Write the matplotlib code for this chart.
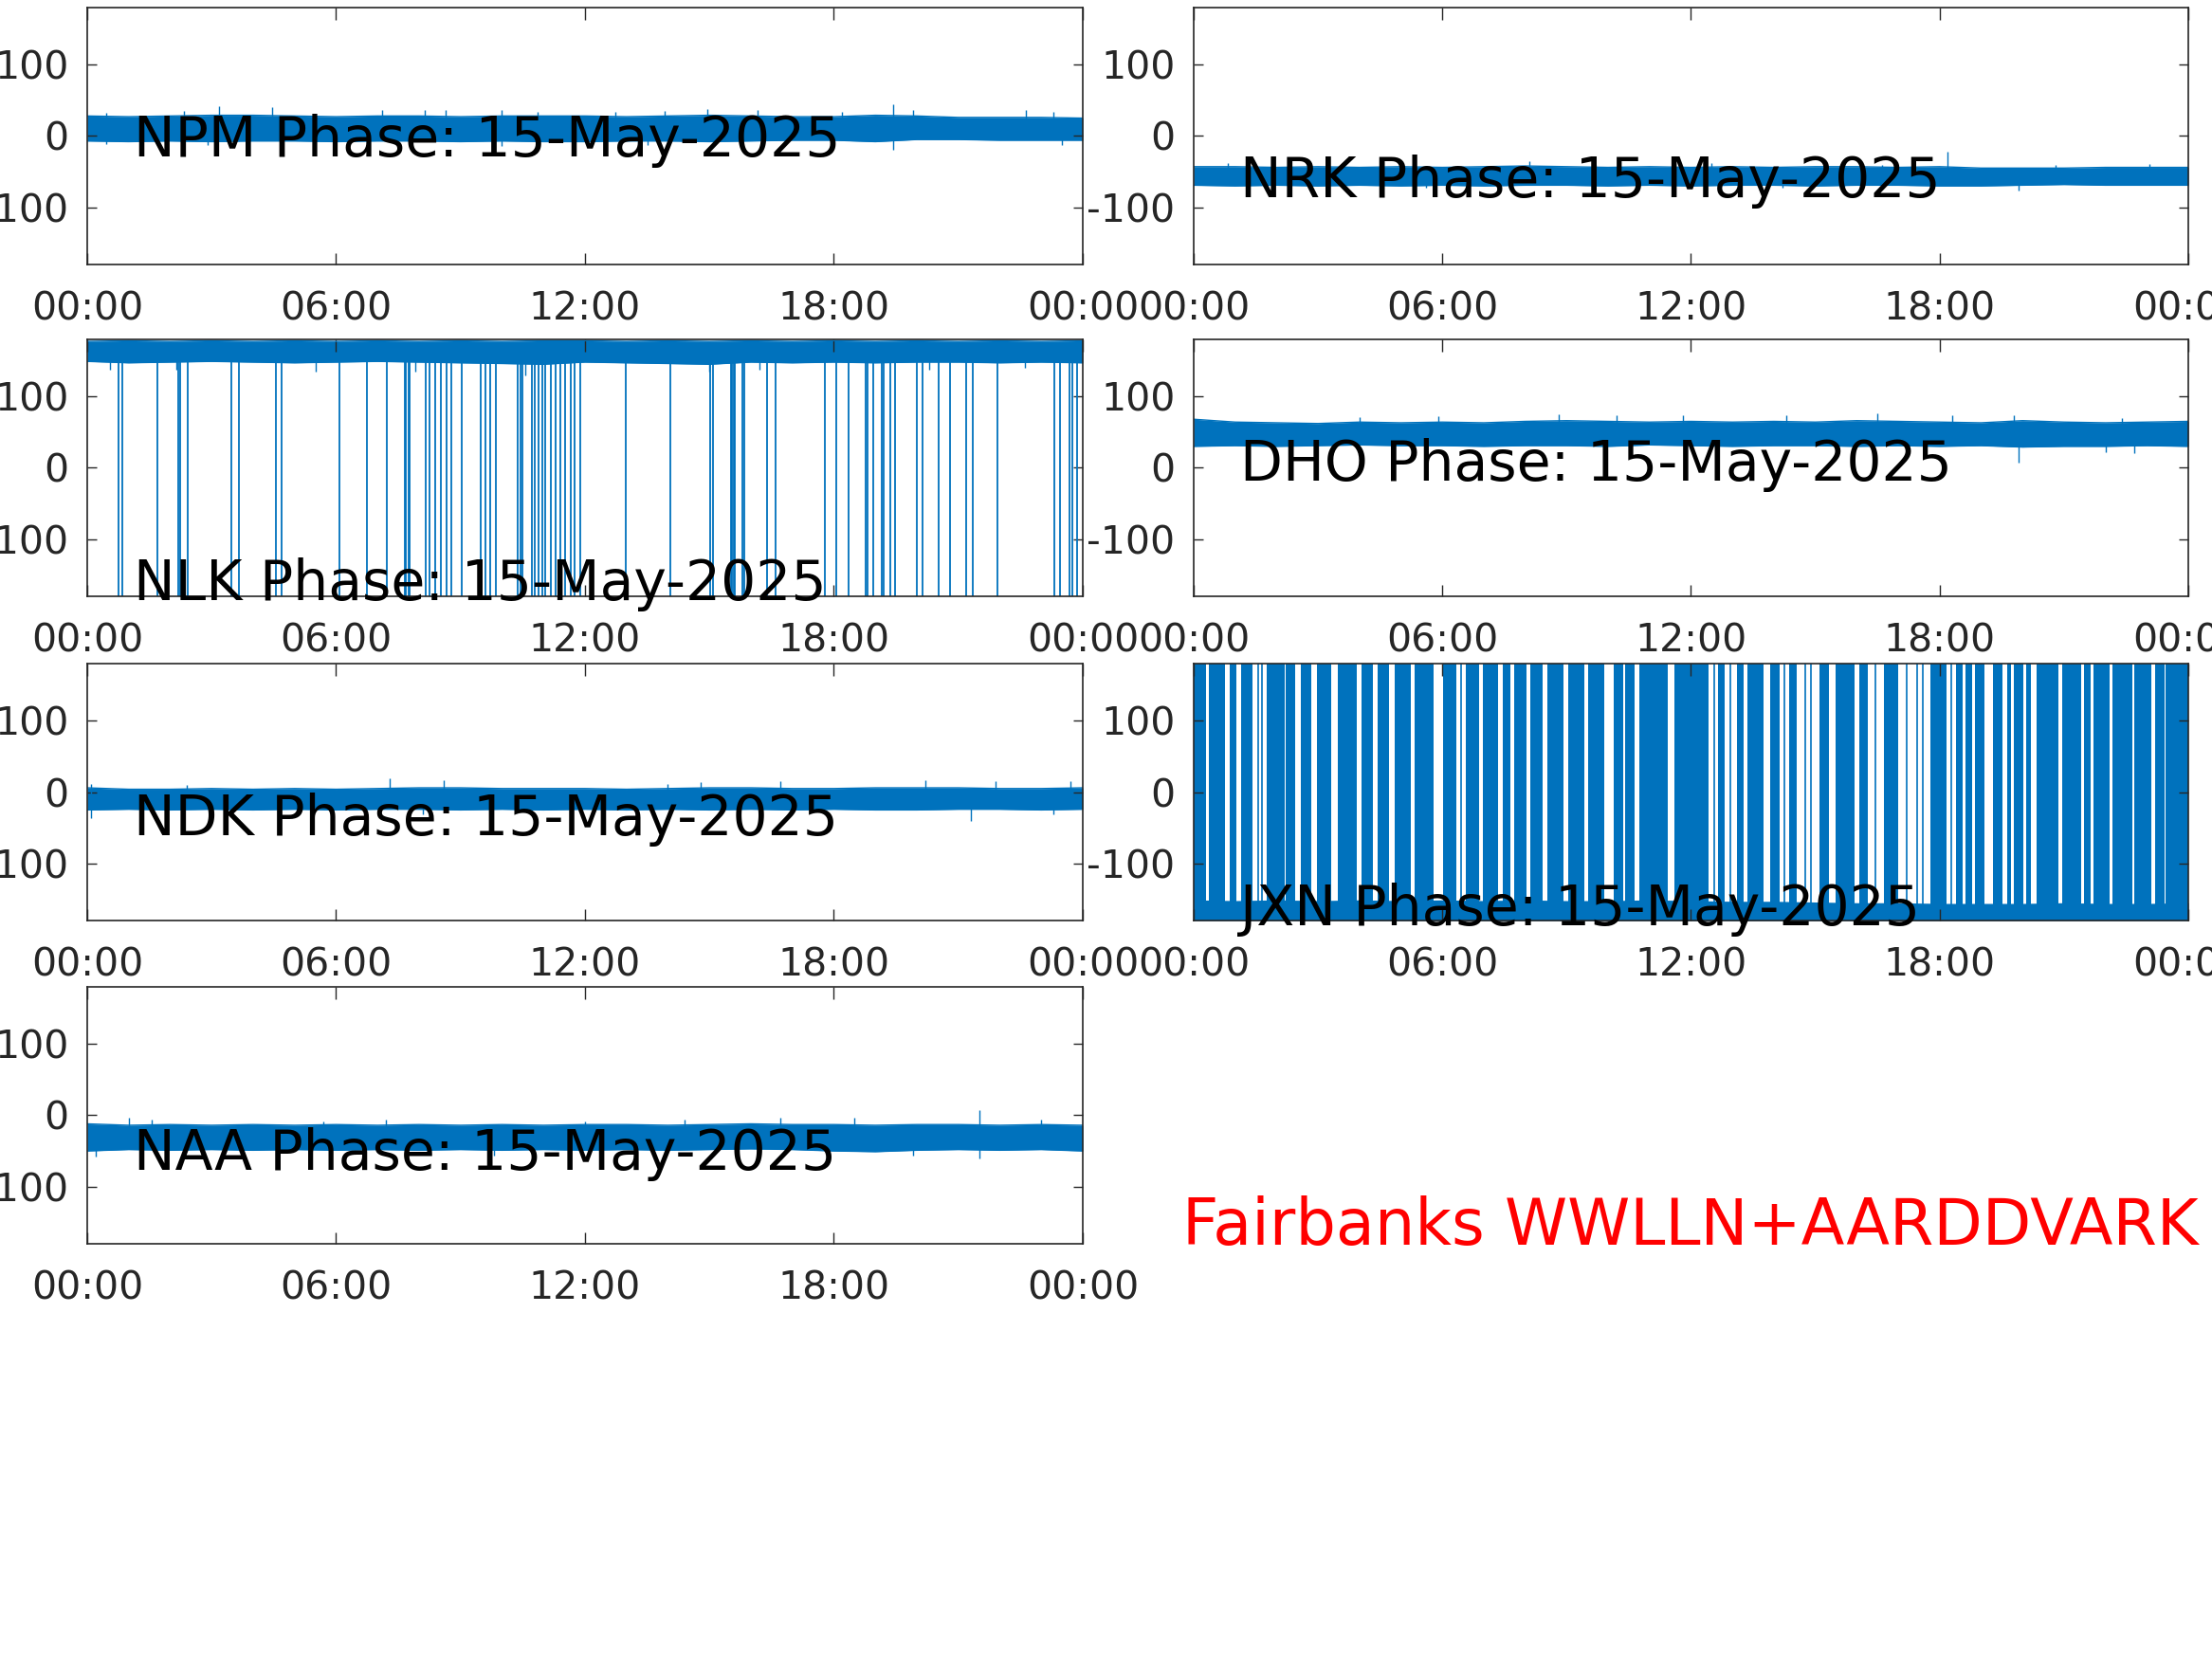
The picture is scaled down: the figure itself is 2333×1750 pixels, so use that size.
import numpy as np
import matplotlib
matplotlib.use('Agg')
import matplotlib.pyplot as plt

plt.rcParams['axes.unicode_minus'] = False

blue = '#0072BD'
grey = '#262626'

hours = np.arange(0, 25)
xticks = [0, 6, 12, 18, 24]
xticklabels = ['00:00', '06:00', '12:00', '18:00', '00:00']
yticks = [-100, 0, 100]
date_str = '15-May-2025'

# upper / lower edge of each phase band (deg)
npm_hi = [28, 27, 28, 29, 29, 28, 27, 28, 28, 27, 28, 28, 28, 27, 28, 29, 28, 27, 27, 29, 28, 26, 26, 26, 25]
npm_lo = [-7, -8, -7, -8, -7, -7, -8, -7, -7, -8, -7, -8, -8, -7, -7, -8, -7, -6, -6, -8, -5, -5, -6, -6, -6]
npm_spike_t = [0.46, 2.33, 3.18, 4.46, 7.11, 8.13, 8.64, 10.0, 10.86, 12.74, 13.93, 14.95, 16.15,
               18.2, 19.42, 19.9, 22.63, 23.3, 0.46, 2.9, 10.0, 13.5, 19.42, 23.5]
npm_spike_v = [33, 35, 42, 40, 36, 37, 36, 36, 34, 34, 35, 38, 36,
               34, 45, 36, 36, 34, -11, -13, -14, -13, -20, -13]

nrk_hi = [-43, -43, -44, -43, -44, -43, -44, -43, -42, -43, -44, -43, -44, -43, -44, -43, -43, -44, -43, -45, -45, -45, -44, -44, -44]
nrk_lo = [-69, -70, -69, -70, -69, -70, -69, -70, -69, -69, -70, -69, -70, -69, -69, -70, -69, -69, -70, -70, -69, -68, -69, -69, -69]
nrk_spike_t = [0.83, 8.1, 9.7, 12.5, 16.6, 18.2, 20.8, 23.07, 5.6, 14.2, 19.9, 15.7]
nrk_spike_v = [-38, -35, -40, -38, -40, -22, -40, -39, -73, -73, -76, -71]

nlk_hi = [177, 178, 177, 178, 177, 178, 177, 178, 177, 178, 177, 178, 178, 177, 178, 177, 178, 177, 178, 177, 178, 177, 178, 177, 178]
nlk_lo = [149, 147, 148, 149, 148, 147, 148, 149, 148, 147, 146, 145, 148, 147, 146, 145, 148, 147, 148, 147, 148, 148, 147, 148, 147]
nlk_spike_t = [0.55, 2.15, 5.5, 7.9, 10.57, 15.0, 16.2, 20.3, 22.6]
nlk_spike_v = [137, 137, 135, 135, 130, 135, 138, 138, 140]
# times (h) where the NLK phase wraps down to -180
nlk_wraps = [0.76, 0.85, 1.70, 2.19, 2.25, 2.43, 3.48, 3.65, 4.54, 4.68, 6.09, 6.75, 7.23,
             7.65, 7.69, 7.75, 7.78, 8.17, 8.25, 8.40, 8.52, 8.67, 8.77, 9.04, 9.48, 9.60,
             9.71, 9.85, 10.37, 10.45, 10.50, 10.72, 10.80, 10.87, 10.97, 11.03, 11.18, 11.30,
             11.41, 11.53, 11.65, 11.76, 11.88, 12.98, 14.05, 15.02, 15.08, 15.51, 15.55,
             15.59, 15.62, 15.79, 15.85, 16.40, 16.59, 17.79, 18.05, 18.35, 18.77, 18.82,
             18.94, 19.15, 19.21, 19.37, 19.48, 19.99, 20.14, 20.53, 20.81, 21.20, 21.36,
             21.95, 23.31, 23.44, 23.67, 23.74, 23.87]

dho_hi = [68, 64, 63, 62, 64, 63, 64, 63, 65, 66, 65, 64, 65, 64, 65, 64, 66, 65, 64, 63, 66, 64, 63, 64, 65]
dho_lo = [30, 31, 30, 31, 32, 31, 31, 30, 31, 31, 30, 32, 31, 30, 31, 31, 30, 31, 30, 31, 29, 30, 30, 31, 30]
dho_spike_t = [4.0, 5.9, 8.8, 10.2, 11.8, 14.3, 16.5, 18.3, 19.8, 22.4, 9.9, 19.9, 22.0, 22.7]
dho_spike_v = [71, 72, 75, 74, 73, 73, 76, 74, 74, 70, 24, 7, 22, 21]

ndk_hi = [6, 4, 4, 5, 4, 5, 4, 5, 6, 6, 5, 5, 5, 4, 5, 6, 6, 5, 5, 6, 6, 6, 5, 5, 6]
ndk_lo = [-25, -24, -25, -24, -25, -24, -25, -24, -24, -25, -24, -25, -24, -25, -24, -25, -24, -25, -24, -25, -25, -24, -24, -25, -24]
ndk_spike_t = [0.1, 2.4, 7.3, 8.6, 14.0, 14.8, 16.7, 20.2, 21.9, 23.7, 0.1, 21.3, 23.3, 8.1]
ndk_spike_v = [11, 10, 19, 16, 11, 14, 15, 16, 15, 15, -36, -40, -31, -31]

jxn_hi = [-151, -152, -151, -152, -151, -152, -151, -152, -151, -152, -152, -151, -152, -153, -153, -154, -155, -155, -156, -156, -156, -155, -156, -156, -155]
jxn_lo = [-180] * 25
# JXN wraps +-180 almost continuously; these are the quiet (white) gaps, in hours
jxn_gap_start = [0.30, 0.76, 1.03, 1.42, 2.19, 2.46, 2.85, 3.31, 3.94, 4.32, 4.71, 5.25, 5.79,
                 6.34, 6.88, 7.34, 7.65, 8.04, 8.43, 8.93, 9.43, 9.90, 10.36, 10.63, 11.45,
                 12.43, 12.82, 13.28, 13.75, 14.13, 14.56, 15.33, 15.95, 16.26, 17.00, 18.16,
                 18.55, 18.78, 19.09, 19.51, 19.71, 20.02, 20.21, 20.87, 21.41, 21.64, 22.11,
                 22.65, 23.11, 23.42]
jxn_gap_end = [0.37, 0.88, 1.15, 1.77, 2.23, 2.58, 2.97, 3.47, 4.05, 4.44, 4.86, 5.33, 6.03,
               6.57, 6.99, 7.46, 7.73, 8.12, 8.54, 9.04, 9.51, 10.13, 10.40, 10.75, 11.60,
               12.66, 13.11, 13.36, 13.90, 14.36, 15.10, 15.49, 16.07, 16.65, 17.77, 18.39,
               18.62, 18.86, 19.28, 19.63, 19.78, 20.09, 20.33, 20.95, 21.49, 21.72, 22.18,
               22.69, 23.19, 23.46]
# a few single wraps that show inside the wider gaps
jxn_lone = [1.55, 1.65, 6.45, 12.55, 12.95, 14.25, 14.75, 14.9, 16.45, 17.2, 17.45, 17.6, 18.28]

naa_hi = [-12, -14, -13, -14, -13, -14, -13, -14, -13, -14, -13, -14, -13, -13, -14, -13, -12, -13, -13, -14, -13, -13, -14, -13, -14]
naa_lo = [-50, -48, -49, -48, -49, -48, -49, -48, -49, -48, -49, -48, -49, -48, -49, -48, -47, -48, -50, -51, -49, -48, -49, -48, -50]
naa_spike_t = [1.0, 1.56, 5.7, 7.2, 12.0, 14.4, 16.7, 18.5, 21.5, 23.0, 21.5, 0.2, 9.8, 19.9]
naa_spike_v = [-4, -6, -9, -6, -9, -6, -4, -4, 7, -6, -60, -58, -56, -56]

# label baselines (deg) as placed on each panel
label_y = {'NPM': -29, 'NRK': -86, 'NLK': -185, 'DHO': -18, 'NDK': -60, 'JXN': -187, 'NAA': -76}


def draw_band(ax, hi, lo, spike_t, spike_v):
    ax.fill_between(hours, lo, hi, color=blue, lw=0)
    ax.plot(hours, hi, color=blue, lw=1)
    ax.plot(hours, lo, color=blue, lw=1)
    mid = (np.mean(hi) + np.mean(lo)) / 2
    ax.vlines(spike_t, mid, spike_v, color=blue, lw=1)


def setup(ax, name):
    ax.set_xlim(0, 24)
    ax.set_ylim(-180, 180)
    ax.set_xticks(xticks)
    ax.set_xticklabels(xticklabels)
    ax.set_yticks(yticks)
    ax.tick_params(direction='in', top=True, right=True, width=1, colors=grey,
                   labelsize=29.5)
    ax.tick_params(axis='x', length=9, pad=20)
    ax.tick_params(axis='y', length=7.5, pad=14)
    for s in ax.spines.values():
        s.set_color(grey)
        s.set_linewidth(1.2)
    ax.text(1.12, label_y[name], f'{name} Phase: {date_str}', fontsize=42,
            color='black', va='baseline', ha='left', zorder=10)


fig = plt.figure(figsize=(23.33, 17.5), dpi=100)

lx, rx = 0.0394, 0.5396
lw_, rw_ = 0.4501, 0.4497
h = 0.1549
rows = [0.8406, 0.6406, 0.4451, 0.2503]

ax = fig.add_axes([lx, rows[0], lw_, h])
draw_band(ax, npm_hi, npm_lo, npm_spike_t, npm_spike_v)
setup(ax, 'NPM')

ax = fig.add_axes([rx, rows[0], rw_, h])
draw_band(ax, nrk_hi, nrk_lo, nrk_spike_t, nrk_spike_v)
setup(ax, 'NRK')

ax = fig.add_axes([lx, rows[1], lw_, h])
draw_band(ax, nlk_hi, nlk_lo, nlk_spike_t, nlk_spike_v)
ax.vlines(nlk_wraps, -180, 150, color=blue, lw=1.3)
setup(ax, 'NLK')

ax = fig.add_axes([rx, rows[1], rw_, h])
draw_band(ax, dho_hi, dho_lo, dho_spike_t, dho_spike_v)
setup(ax, 'DHO')

ax = fig.add_axes([lx, rows[2], lw_, h])
draw_band(ax, ndk_hi, ndk_lo, ndk_spike_t, ndk_spike_v)
setup(ax, 'NDK')

ax = fig.add_axes([rx, rows[2], rw_, h])
ax.fill_between(hours, jxn_lo, jxn_hi, color=blue, lw=0)
# dense wrap blocks sit between the quiet gaps
block_start = [0.0] + jxn_gap_end
block_end = jxn_gap_start + [24.0]
for s, e in zip(block_start, block_end):
    ax.fill_between([s, e], -180, 180, color=blue, lw=0)
ax.vlines(jxn_lone, -180, 180, color=blue, lw=1.2)
setup(ax, 'JXN')

ax = fig.add_axes([lx, rows[3], lw_, h])
draw_band(ax, naa_hi, naa_lo, naa_spike_t, naa_spike_v)
setup(ax, 'NAA')

fig.text(1247 / 2333, 1 - 1313 / 1750, 'Fairbanks WWLLN+AARDDVARK', color='red',
         fontsize=48.2, ha='left', va='baseline')

fig.savefig('out.png', dpi=100)
